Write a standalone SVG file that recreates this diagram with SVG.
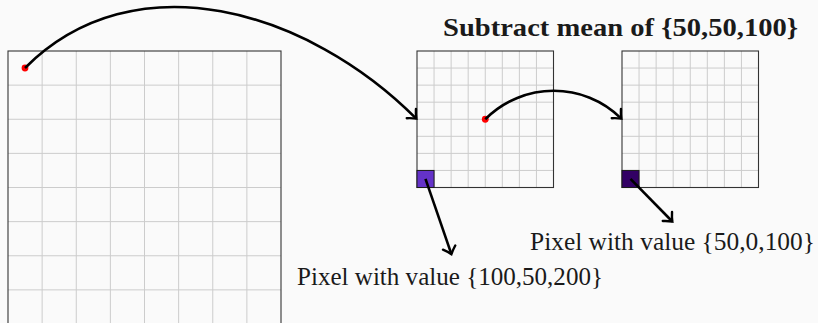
<svg xmlns="http://www.w3.org/2000/svg" width="818" height="323" viewBox="0 0 818 323">
<style>
.bg{fill:#fafafa}
.grid{fill:none;stroke:#cccccc;stroke-width:1}
.frame{fill:none;stroke:#333333;stroke-width:1.1}
.dot{fill:#ff0000}
.conn{fill:none;stroke:#000;stroke-width:2.6;marker-end:url(#arr)}
.title{font-family:"Liberation Serif","Times New Roman",serif;font-weight:bold;font-size:25px;fill:#1a1a1a}
.label{font-family:"Liberation Serif","Times New Roman",serif;font-size:25px;fill:#1a1a1a}
</style>
<defs>
<marker id="arr" markerUnits="userSpaceOnUse" orient="auto" refX="0" refY="0" markerWidth="20" markerHeight="20" overflow="visible">
<path d="M-7,-6.5 C-4,-3.2 -1.2,-0.9 0,0 C-1.2,0.9 -4,3.2 -7,6.5" fill="none" stroke="#000" stroke-width="2.4" stroke-linecap="round"/>
</marker>
</defs>
<rect class="bg" x="0" y="0" width="818" height="323"/>

<g id="input-image">
<path class="grid" d="M42.125,51V324M76.25,51V324M110.375,51V324M144.5,51V324M178.625,51V324M212.75,51V324M246.875,51V324M8,85.125H281M8,119.25H281M8,153.375H281M8,187.5H281M8,221.625H281M8,255.75H281M8,289.875H281"/>
<rect class="frame" x="8" y="51" width="273" height="273"/>
<circle class="dot" cx="25" cy="68" r="3.4"/>
</g>

<g id="scaled-image">
<path class="grid" d="M434.06,51V187.5M451.13,51V187.5M468.19,51V187.5M485.25,51V187.5M502.31,51V187.5M519.38,51V187.5M536.44,51V187.5M417,68.06H553.5M417,85.13H553.5M417,102.19H553.5M417,119.25H553.5M417,136.31H553.5M417,153.38H553.5M417,170.44H553.5"/>
<rect class="frame" x="417" y="51" width="136.5" height="136.5"/>
<rect x="417" y="170.44" width="17.06" height="17.06" fill="rgb(100,50,200)" stroke="#1a1a1a" stroke-width="1"/>
<circle class="dot" cx="485.25" cy="119.25" r="3.4"/>
</g>

<g id="mean-subtracted-image">
<path class="grid" d="M639.06,51V187.5M656.13,51V187.5M673.19,51V187.5M690.25,51V187.5M707.31,51V187.5M724.38,51V187.5M741.44,51V187.5M622,68.06H758.5M622,85.13H758.5M622,102.19H758.5M622,119.25H758.5M622,136.31H758.5M622,153.38H758.5M622,170.44H758.5"/>
<rect class="frame" x="622" y="51" width="136.5" height="136.5"/>
<rect x="622" y="170.44" width="17.06" height="17.06" fill="rgb(50,0,100)" stroke="#1a1a1a" stroke-width="1"/>
</g>

<g id="title">
<text class="title" x="443" y="36" textLength="355" lengthAdjust="spacingAndGlyphs">Subtract mean of {50,50,100}</text>
</g>

<g id="label-original-pixel">
<text class="label" x="297" y="284.5" textLength="306" lengthAdjust="spacingAndGlyphs">Pixel with value {100,50,200}</text>
</g>

<g id="label-result-pixel">
<text class="label" x="530" y="250" textLength="285" lengthAdjust="spacingAndGlyphs">Pixel with value {50,0,100}</text>
</g>

<g id="connectors">
<path class="conn" d="M25,68 C134.5,-41.5 307.5,9.5 416.3,118.6"/>
<path class="conn" d="M485.25,119.25 C523.1,81.4 584.1,81.4 621.3,118.6"/>
<path class="conn" d="M425.5,178.9 L451.4,254.2"/>
<path class="conn" d="M630.5,178.9 L672.3,221.5"/>
</g>
</svg>
